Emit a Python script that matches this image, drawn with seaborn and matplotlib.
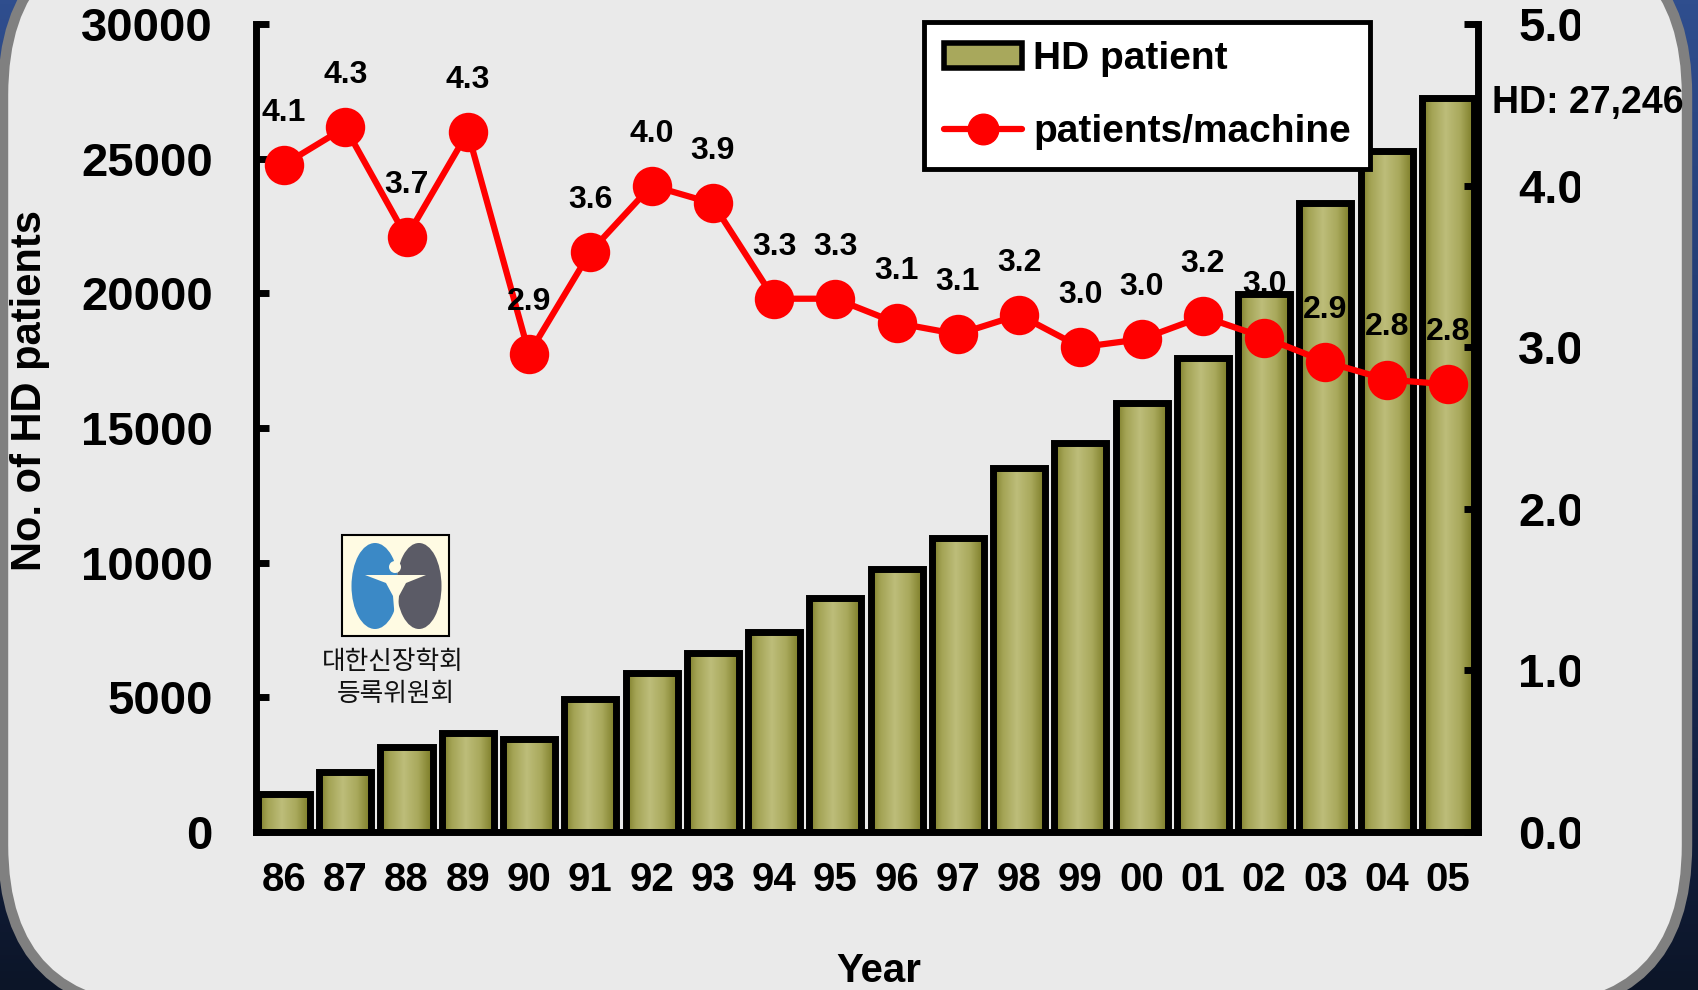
import numpy as np
import pandas as pd
import matplotlib
matplotlib.use('Agg')
import matplotlib.pyplot as plt
import seaborn as sns
from matplotlib.patches import FancyBboxPatch, Ellipse, Circle, Polygon, Rectangle, Patch
from matplotlib.lines import Line2D
from matplotlib.colors import LinearSegmentedColormap
from matplotlib.transforms import Bbox, TransformedBbox, IdentityTransform

# data
years = ['86', '87', '88', '89', '90', '91', '92', '93', '94', '95',
         '96', '97', '98', '99', '00', '01', '02', '03', '04', '05']
hd_patients = [1400, 2210, 3140, 3660, 3460, 4950, 5910, 6640, 7440, 8690,
               9770, 10900, 13510, 14440, 15930, 17610, 19990, 23370, 25300, 27246]
patients_per_machine = [4.13, 4.36, 3.68, 4.33, 2.96, 3.59, 4.0, 3.89, 3.30, 3.30,
                        3.15, 3.08, 3.2, 3.0, 3.05, 3.19, 3.06, 2.91, 2.80, 2.77]
ratio_labels = ['4.1', '4.3', '3.7', '4.3', '2.9', '3.6', '4.0', '3.9', '3.3', '3.3',
                '3.1', '3.1', '3.2', '3.0', '3.0', '3.2', '3.0', '2.9', '2.8', '2.8']
left_ticks = [0, 5000, 10000, 15000, 20000, 25000, 30000]
right_ticks = [0, 1, 2, 3, 4, 5]
society = ['대한신장학회', '등록위원회']

sns.set_style('white')
plt.rcParams['font.family'] = ['Liberation Sans', 'Noto Sans CJK KR', 'DejaVu Sans']
plt.rcParams['font.weight'] = 'bold'
plt.rcParams['text.color'] = 'black'

df = pd.DataFrame({'year': years, 'hd': hd_patients, 'ratio': patients_per_machine})

W, H = 1698, 990
fig = plt.figure(figsize=(W / 100, H / 100), dpi=100)

# slide background: blue gradient + rounded light panel
bg = fig.add_axes([0, 0, 1, 1], zorder=-10)
bg.set_xlim(0, W)
bg.set_ylim(H, 0)
bg.axis('off')
blue = LinearSegmentedColormap.from_list('bg', ['#2f4e8e', '#1d3366', '#0c1528'])
bg.imshow(np.linspace(0, 1, 256)[:, None], cmap=blue, extent=(0, W, H, 0), aspect='auto')
bg.add_patch(FancyBboxPatch((3, -70), 1684, 1080, boxstyle='round,pad=0,rounding_size=165',
                            fc='#eaeaea', ec='#808080', lw=7.5))

# society logo
bg.add_patch(Rectangle((342, 535), 107, 101, fc='#fffbe3', ec='black', lw=1.5))
bg.add_patch(Ellipse((375, 586), 47, 86, fc='#3b89c6', ec='none'))
bg.add_patch(Ellipse((419, 586), 45, 86, fc='#5b5b66', ec='none'))
bg.add_patch(Polygon([(365, 575), (426, 575), (406, 583), (399, 596), (396, 632),
                      (393, 596), (386, 583)], fc='#fffbe3', ec='none'))
bg.add_patch(Circle((395, 567), 6, fc='#fffbe3', ec='none'))
bg.text(393, 662, society[0], ha='center', va='center', fontsize=18.5,
        family=['Noto Sans CJK KR'], weight='normal', color='#111111')
bg.text(396, 694, society[1], ha='center', va='center', fontsize=18.5,
        family=['Noto Sans CJK KR'], weight='normal', color='#111111')

# main axes
ax = fig.add_axes([256 / W, 1 - 832 / H, (1478 - 256) / W, (832 - 24) / H])
ax.set_facecolor('none')

sns.barplot(data=df, x='year', y='hd', ax=ax, color='#a8a85c', edgecolor='black',
            linewidth=5, width=0.85, saturation=1)

# olive gradient inside each bar
olive = LinearSegmentedColormap.from_list('olive', [(0, '#7a7a26'), (0.18, '#a3a354'),
                                                    (0.45, '#bdbd7a'), (0.72, '#a9a95c'),
                                                    (1, '#787822')])
gx = np.linspace(0, 1, 128)[None, :]
for bar in list(ax.patches):
    x0, w, h = bar.get_x(), bar.get_width(), bar.get_height()
    img = ax.imshow(gx, cmap=olive, extent=(x0, x0 + w, 0, h), aspect='auto',
                    interpolation='bilinear', zorder=1.5)
    img.set_clip_path(bar)
    bar.set_facecolor('none')
    bar.set_zorder(2)

ax.set_xlim(-0.457, 19.49)
ax.set_ylim(0, 30000)
ax.set_yticks(left_ticks)
ax.set_yticklabels([str(t) for t in left_ticks])
ax.tick_params(axis='y', direction='in', length=9, width=5, pad=31, labelsize=34,
               left=True, colors='black')
ax.tick_params(axis='x', length=0, pad=21, labelsize=29, colors='black')
for s in ['left', 'bottom']:
    ax.spines[s].set_linewidth(5)
    ax.spines[s].set_color('black')
ax.spines['top'].set_visible(False)
ax.spines['right'].set_visible(False)

ax.set_xlabel('Year', fontsize=29, fontweight='bold', color='black')
ax.xaxis.set_label_coords(0.51, -0.172)
ax.xaxis.label.set_va('center')
ax.set_ylabel('No. of HD patients', fontsize=30, fontweight='bold', color='black')
ax.yaxis.set_label_coords(-0.185, 0.547)
ax.yaxis.label.set_va('center')

ax.annotate(f'HD: {hd_patients[-1]:,}', xy=(len(years) - 1, hd_patients[-1]),
            xytext=(32, -3.5), textcoords='offset points', ha='left', va='center',
            fontsize=27, fontweight='bold', color='black', annotation_clip=False)

# patients per machine on the right axis
ax2 = ax.twinx()
sns.pointplot(data=df, x='year', y='ratio', ax=ax2, color='#ff0000', markers='o',
              errorbar=None, markersize=25, linewidth=4.5)
for i, (v, lbl) in enumerate(zip(patients_per_machine, ratio_labels)):
    ax2.annotate(lbl, xy=(i, v), xytext=(0, 37.5), textcoords='offset points',
                 ha='center', va='center', fontsize=23, fontweight='bold', color='black')

ax2.set_xlim(-0.457, 19.49)
ax2.set_ylim(0, 5)
ax2.set_ylabel('')
ax2.set_yticks(right_ticks)
ax2.set_yticklabels([f'{t:.1f}' for t in right_ticks])
ax2.tick_params(axis='y', direction='in', length=10, width=5, pad=29, labelsize=34,
                right=True, colors='black')
ax2.spines['right'].set_linewidth(5)
ax2.spines['right'].set_color('black')
for s in ['left', 'top', 'bottom']:
    ax2.spines[s].set_visible(False)

# the right-hand labels are cut off on the slide
clip = TransformedBbox(Bbox.from_extents(0, 0, 1580, H), IdentityTransform())
for t in ax2.yaxis.get_major_ticks():
    t.label2.set_clip_box(clip)
    t.label2.set_clip_on(True)

handles = [Patch(facecolor='#a8a85c', edgecolor='black', linewidth=4),
           Line2D([], [], color='#ff0000', lw=4.5, marker='o', markersize=22)]
leg = ax2.legend(handles, ['HD patient', 'patients/machine'], loc='upper right',
                 bbox_to_anchor=(0.912, 1.003), frameon=True, fancybox=False,
                 framealpha=1, edgecolor='black', facecolor='white', fontsize=28,
                 labelcolor='black', handlelength=2.0, handleheight=0.6,
                 labelspacing=0.95, borderpad=0.5, handletextpad=0.3, borderaxespad=0)
leg.get_frame().set_linewidth(3.5)

fig.savefig('out.png', dpi=100)
plt.close(fig)
